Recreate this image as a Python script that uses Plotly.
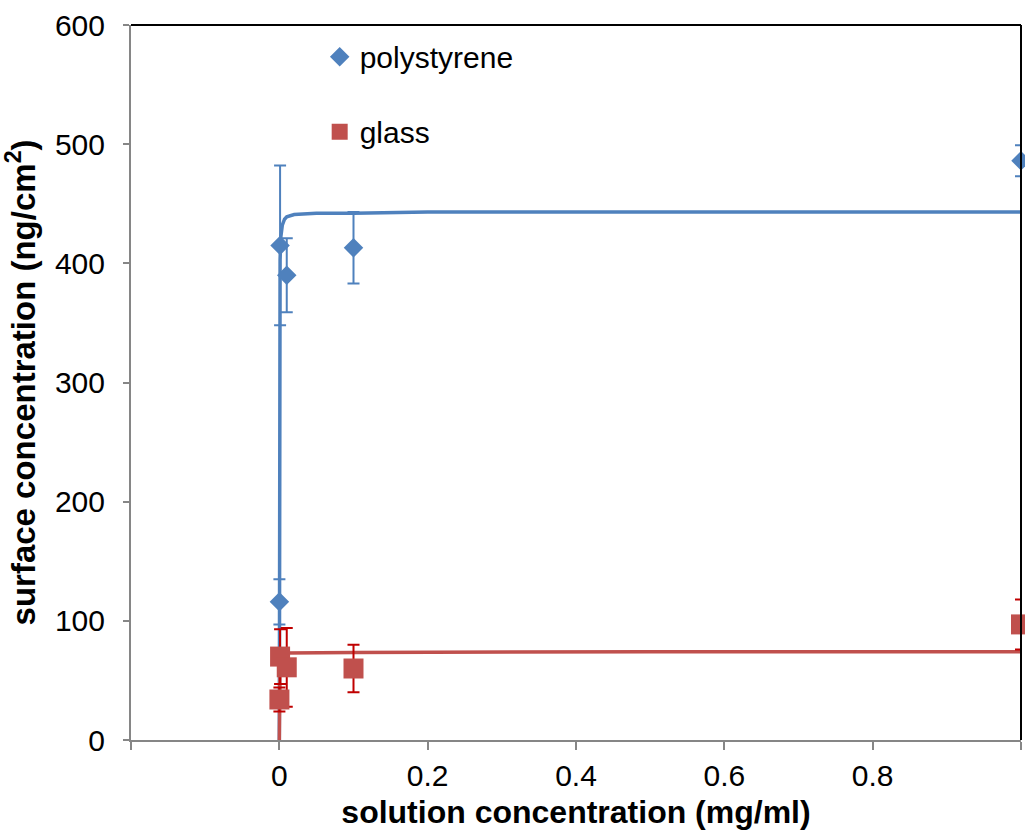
import plotly.graph_objects as go

# measured points (solution concentration mg/ml -> surface concentration ng/cm2)
ps_x = [0.0001, 0.001, 0.01, 0.1, 1.0]
ps_y = [116, 415, 390, 413, 486]
ps_err = [19, 67, 31, 30, 13]

gl_x = [0.0001, 0.001, 0.01, 0.1, 1.0]
gl_y = [34, 70, 61, 60, 97]
gl_err = [10, 23, 33, 20, 21]

# fitted curves
ps_fit_x = [0, 0.0001, 0.0002, 0.0005, 0.001, 0.002, 0.004, 0.007, 0.01, 0.02, 0.05, 0.1, 0.2, 0.4, 0.6, 0.8, 1.0]
ps_fit_y = [0, 221, 295, 369, 403, 422, 432, 437, 439, 441, 442, 442, 443, 443, 443, 443, 443]
gl_fit_x = [0, 0.0001, 0.0002, 0.0005, 0.001, 0.002, 0.005, 0.01, 0.1, 0.5, 1.0]
gl_fit_y = [0, 37, 50, 62, 67, 70, 72, 73, 73.5, 74, 74]

x_tickvals = [-0.2, 0, 0.2, 0.4, 0.6, 0.8, 1.0]
x_ticktext = ["", "0", "0.2", "0.4", "0.6", "0.8", "1"]
y_tickvals = [0, 100, 200, 300, 400, 500, 600]

BLUE = "#4F81BD"
RED = "#C0504D"
RED_ERR = "#C00000"
FONT = "Liberation Sans, Arial, sans-serif"

fig = go.Figure()
fig.add_trace(go.Scatter(x=ps_fit_x, y=ps_fit_y, mode="lines",
                         line=dict(color=BLUE, width=3.5), showlegend=False, hoverinfo="skip"))
fig.add_trace(go.Scatter(x=gl_fit_x, y=gl_fit_y, mode="lines",
                         line=dict(color=RED, width=3.5), showlegend=False, hoverinfo="skip"))
fig.add_trace(go.Scatter(x=ps_x, y=ps_y, mode="markers", name="polystyrene",
                         legendgroup="a", cliponaxis=False,
                         marker=dict(symbol="diamond", size=15, color=BLUE),
                         error_y=dict(type="data", array=ps_err, visible=True,
                                      color=BLUE, thickness=2, width=6)))
fig.add_trace(go.Scatter(x=gl_x, y=gl_y, mode="markers", name="glass",
                         legendgroup="b", cliponaxis=False,
                         marker=dict(symbol="square", size=20, color=RED),
                         error_y=dict(type="data", array=gl_err, visible=True,
                                      color=RED_ERR, thickness=2, width=6)))

fig.update_layout(
    width=1025, height=832,
    margin=dict(l=131, r=4, t=25, b=92),
    paper_bgcolor="white", plot_bgcolor="white",
    font=dict(family=FONT, size=30, color="black"),
    legend=dict(x=0.212, y=0.992, xanchor="left", yanchor="top",
                bgcolor="rgba(0,0,0,0)", traceorder="grouped", tracegroupgap=33,
                font=dict(size=30), itemwidth=30),
    xaxis=dict(range=[-0.2, 1.0], tickvals=x_tickvals, ticktext=x_ticktext,
               showgrid=False, zeroline=False, showline=True, linecolor="#868686",
               linewidth=2, ticks="outside", ticklen=8, tickcolor="#868686", tickwidth=2,
               tickfont=dict(size=30),
               title=dict(text="<b>solution concentration (mg/ml)</b>", font=dict(size=32), standoff=10)),
    yaxis=dict(range=[0, 600], tickvals=y_tickvals,
               showgrid=False, zeroline=False, showline=True, linecolor="#868686",
               linewidth=2, ticks="outside", ticklen=6, tickcolor="#868686", tickwidth=2,
               tickfont=dict(size=30), ticklabelstandoff=12,
               title=dict(text="<b>surface concentration (ng/cm<sup>2</sup>)</b>", font=dict(size=33), standoff=10)),
    shapes=[
        dict(type="line", xref="paper", yref="paper", x0=0, x1=1, y0=1, y1=1,
             line=dict(color="black", width=2)),
        dict(type="line", xref="paper", yref="paper", x0=1, x1=1, y0=0, y1=1,
             line=dict(color="black", width=2)),
    ],
)

fig.write_html("out.html")
